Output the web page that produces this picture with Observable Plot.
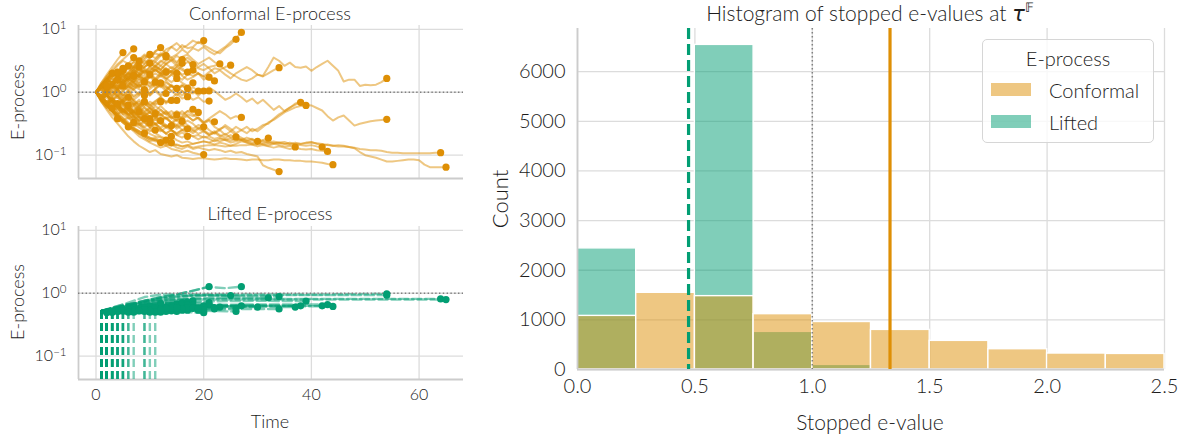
<!DOCTYPE html>
<html><head><meta charset="utf-8">
<script src="https://cdn.jsdelivr.net/npm/d3@7"></script>
<script src="https://cdn.jsdelivr.net/npm/@observablehq/plot@0.6"></script>
<style>
body{margin:0;background:#fff;}
#fig{position:relative;width:1188px;height:434px;font-family:Lato,"DejaVu Sans",sans-serif;font-weight:300;color:#1c1c1c;overflow:hidden;}
#fig svg{position:absolute;overflow:visible;}
.lbl{position:absolute;white-space:nowrap;transform:translate(-50%,-50%);line-height:1;}
.rot{transform:translate(-50%,-50%) rotate(-90deg);}
</style></head><body><div id="fig"></div><script>
// ---------- data (log10 of the E-process, index = time step) ----------
const conformalLog10 = [
 [0,.1,.05,.18,.25,.2,.32,.4,.35,.45,.52,.48,.58,.62,.55,.6,.68,.62,.7,.66,.72,.65,.6,.66,.72,.8,.86,.95],
 [0,.12,.2,.15,.28,.35,.3,.42,.5,.45,.55,.62,.58,.68,.72,.66,.75,.7,.72,.8,.75,.7,.65,.62,.7,.76,.84],
 [0,.1,.2,.3,.25,.38,.45,.4,.52,.6,.55,.65,.7,.62,.72,.78,.7,.75,.82,.78,.82],
 [0,-.05,.05,.12,.08,.18,.25,.2,.3,.26,.35,.42,.36,.45,.52,.46,.55,.5,.42,.38,.35,.4,.42,.45],
 [0,.08,.02,.12,.2,.15,.22,.3,.25,.35,.28,.22,.3,.38,.32,.25,.2,.28,.35,.3,.25,.32,.38,.36,.4,.43],
 [0,.1,.15,.08,.2,.25,.18,.28,.35,.3,.4,.48,.42,.5,.55,.48,.56,.6,.52,.45,.5,.55,.48,.42,.36,.3,.25,.2,.18,.22,.28,.25,.3,.35,.39],
 [0,.08,.15,.1,.2,.28,.2,.3,.38,.3,.35,.42,.35,.45,.5,.42,.5,.55,.48,.4,.45,.38,.3,.35,.28,.22,.3,.35,.4,.35,.28,.26,.4,.55,.5,.42,.47,.4,.39,.41,.34,.4,.45,.5,.42,.34,.17,.2,.2,.1,.12,.11,.12,.16,.22],
 [0,.1,.05,.15,.22,.3,.25,.35,.42,.38,.32,.4,.36,.28,.34,.4,.35,.3,.26,.3,.2,.24],
 [0,-.08,.02,.1,.05,.15,.22,.16,.25,.2,.28,.35,.3,.22,.28,.34,.26,.2,.24,.3,.25,.2,.18],
 [0,-.1,-.05,-.15,-.22,-.15,-.25,-.3,-.22,-.15,-.2,-.28,-.35,-.3,-.4,-.45,-.38,-.3,-.35,-.42,-.5,-.45,-.55,-.6,-.52,-.58,-.65,-.6,-.55,-.62,-.58,-.52,-.5,-.42,-.35,-.3,-.24,-.2,-.16],
 [0,.05,-.05,.02,-.08,-.15,-.1,-.2,-.15,-.25,-.32,-.28,-.35,-.42,-.38,-.45,-.52,-.45,-.5,-.58,-.52,-.6,-.66,-.6,-.68,-.62,-.55,-.6,-.65,-.58,-.62,-.55,-.48,-.44,-.38,-.32,-.28,-.24,-.22,-.21],
 [0,.1,.02,.12,.05,-.05,.02,.1,.05,-.02,.05,.12,.08,.15,.1,.05,.12,.08,.02,-.05,.02,.08,.02,-.05,-.12,-.08,-.02,-.08,-.15,-.1,-.18,-.12,-.2,-.28,-.22,-.3,-.25,-.18,-.14,-.2,-.21,-.25,-.29,-.38,-.45,-.4,-.37,-.45,-.53,-.5,-.48,-.46,-.45,-.44,-.43],
 [0,-.1,-.18,-.12,-.2,-.28,-.22,-.3,-.38,-.32,-.4,-.35,-.28,-.35,-.42,-.36,-.3,-.38,-.45,-.4,-.48,-.42,-.36,-.3,-.35,-.42,-.38,-.4],
 [0,-.12,-.2,-.3,-.25,-.35,-.42,-.38,-.48,-.55,-.5,-.58,-.62,-.56,-.6,-.66,-.6,-.55,-.6,-.66,-.62,-.68,-.64,-.7,-.66,-.72,-.71],
 [0,-.1,-.05,-.15,-.25,-.2,-.3,-.38,-.32,-.42,-.48,-.42,-.5,-.55,-.5,-.58,-.52,-.6,-.65,-.58,-.62,-.68,-.64,-.58,-.55,-.62,-.68,-.72,-.76,-.74,-.78],
 [0,.05,-.05,-.12,-.08,-.18,-.25,-.2,-.3,-.35,-.3,-.38,-.45,-.4,-.48,-.55,-.5,-.58,-.62,-.56,-.6,-.66,-.62,-.68,-.72,-.68,-.72,-.76,-.72,-.75,-.78,-.76,-.73],
 [0,-.1,-.15,-.22,-.18,-.28,-.35,-.42,-.38,-.48,-.55,-.5,-.58,-.65,-.6,-.68,-.72,-.66,-.7,-.75,-.7,-.74,-.78,-.74,-.76,-.8,-.78,-.76,-.8,-.82,-.8,-.83,-.85,-.82,-.84,-.86,-.85,-.87],
 [0,-.08,-.15,-.1,-.2,-.28,-.35,-.3,-.4,-.46,-.42,-.5,-.56,-.52,-.6,-.65,-.6,-.66,-.7,-.68,-.72,-.7,-.74,-.72,-.75,-.73,-.76,-.74,-.77,-.8,-.78,-.8,-.79,-.81,-.8,-.82,-.8,-.83,-.84,-.85,-.84,-.86,-.87],
 [0,-.12,-.22,-.3,-.38,-.45,-.4,-.5,-.56,-.62,-.58,-.65,-.7,-.74,-.7,-.76,-.8,-.78,-.82,-.8,-.78,-.8,-.83,-.8,-.82,-.85,-.82,-.78,-.8,-.83,-.86,-.84,-.86,-.88,-.86,-.88,-.9,-.88,-.9,-.91,-.9,-.92,-.93,-.94],
 [0,-.1,-.2,-.3,-.4,-.48,-.55,-.62,-.7,-.75,-.8,-.84,-.88,-.85,-.9,-.92,-.95,-.93,-.96,-.98,-.99],
 [0,-.1,-.2,-.28,-.35,-.42,-.5,-.56,-.62,-.68,-.72,-.76,-.8,-.82,-.85,-.83,-.86,-.84,-.82,-.8,-.78,-.8,-.76,-.78,-.75,-.77,-.74,-.76,-.78,-.76,-.79,-.77,-.8,-.78,-.8,-.79,-.82,-.8,-.82,-.8,-.79,-.82,-.84,-.83,-.85,-.84,-.85,-.87,-.88,-.9,-.91,-.92,-.92,-.93,-.95,-.96,-.96,-.97,-.97,-.97,-.97,-.97,-.97,-.96,-.96],
 [0,-.12,-.22,-.3,-.4,-.48,-.55,-.6,-.66,-.7,-.75,-.72,-.78,-.82,-.8,-.84,-.86,-.84,-.88,-.86,-.85,-.84,-.84,-.85,-.86,-.85,-.85,-.84,-.84,-.83,-.83,-.82,-.82,-.81,-.81,-.82,-.83,-.82,-.82,-.81,-.8,-.81,-.82,-.84,-.85,-.86,-.86,-.87,-.89,-.95,-1.0,-1.02,-1.04,-1.07,-1.1,-1.1,-1.09,-1.08,-1.07,-1.07,-1.08,-1.15,-1.19,-1.19,-1.19,-1.19],
 [0,-.15,-.28,-.4,-.5,-.6,-.7,-.78,-.85,-.9,-.95,-.92,-.98,-1.0,-1.02,-1.0,-1.04,-1.05,-1.06,-1.05,-1.05,-1.06,-1.07,-1.06,-1.05,-1.06,-1.06,-1.07,-1.08,-1.07,-1.07,-1.08,-1.08,-1.07,-1.07,-1.08,-1.08,-1.09,-1.09,-1.1,-1.1,-1.11,-1.12,-1.14,-1.15],
 [0,-.1,-.2,-.3,-.38,-.45,-.52,-.6,-.66,-.72,-.78,-.75,-.8,-.85,-.82,-.88,-.9,-.86,-.9,-.88,-.9,-.92,-.9,-.92,-.95,-.93,-.96,-.95,-.98,-1.0,-1.02,-1.16,-1.2,-1.23,-1.26],
 [0,.1,.05,.15,.1,.2,.15,.08,.15,.22,.15,.08,.15,.1,.02,-.05,.02,-.05,-.12,-.08,-.15,-.14],
 [0,-.1,-.02,.08,.02,-.08,-.02,.05,.12,.05,-.02,.05,.12,.08,.02,.08,.02,-.05,0,.05,.02],
 [0,.08,.15,.22,.15,.25,.3,.22,.28,.2,.14,.2,.12,.18,.1,.04,.1,.05,-.02,.05,0,.02],
 [0,-.08,-.15,-.08,-.18,-.12,-.2,-.28,-.22,-.3,-.25,-.32,-.38,-.32,-.4,-.35,-.42,-.38,-.45,-.4,-.48,-.44,-.47],
 [0,-.12,-.05,-.15,-.22,-.15,-.25,-.32,-.28,-.38,-.32,-.4,-.46,-.4,-.48,-.52,-.46,-.52,-.58,-.52,-.55],
 [0,.05,-.05,-.12,-.05,-.15,-.08,-.18,-.25,-.18,-.25,-.3,-.22,-.3,-.36,-.3,-.35,-.3,-.27],
 [0,-.1,-.2,-.12,-.22,-.3,-.25,-.35,-.42,-.36,-.45,-.52,-.46,-.55,-.5,-.44,-.4,-.35,-.38,-.32],
 [0,.12,.2,.15,.25,.32,.28,.38,.45,.4,.48,.42,.5,.45,.38,.44,.38,.3,.35],
 [0,-.05,.05,.12,.06,.15,.22,.16,.1,.18,.25,.2,.28,.22,.16,.22,.15,.1,.15],
 [0,.1,.2,.3,.25,.36,.45,.4,.5,.58,.55,.65,.71],
 [0,.12,.25,.35,.45,.52,.6,.69],
 [0,.15,.28,.4,.52,.63],
 [0,-.12,-.22,-.3,-.38,-.45,-.52,-.58,-.62,-.68,-.72,-.75,-.78,-.76,-.8],
 [0,-.1,-.2,-.28,-.36,-.45,-.52,-.58,-.65,-.7,-.74,-.78,-.8],
 [0,-.15,-.25,-.2,-.32,-.4,-.48,-.55,-.5,-.6,-.66,-.7,-.72,-.76],
 [0,.1,.02,.12,.2,.14,.24,.32,.26,.35,.3,.38,.32,.26,.34,.3],
 [0,.08,.18,.12,.22,.3,.25,.35,.3,.4,.46,.4,.48,.55,.5,.58,.52],
 [0,.1,.05,.15,.22,.18,.28,.35,.3,.4,.46],
 [0,-.05,.05,.12,.08,.18,.12,.22,.28,.22,.3,.36,.28,.32],
 [0,.1,.18,.25,.2,.28,.22,.3,.38,.32,.4,.34,.42,.36,.3,.36,.28,.32],
 [0,.08,.15,.08,.18,.25,.18,.1,.2,.16],
 [0,-.08,.02,-.05,.05,.12,.05,.14,.08,.18,.1,.16],
 [0,.1,.2,.28,.22,.35],
 [0,.12,.05,.15,.25,.2,.3,.27],
 [0,.1,.18,.1,.2,.14,.22,.15,.08,.15,.08,.15,.1,.02,.1,.06],
 [0,-.1,-.18,-.1,-.2,-.12,-.05,-.12,-.05,.02,-.05,.05,.12,.05,.12,.05,.1,.06],
 [0,.08,.02,.1,.05,-.05,.02,-.08,-.02,.05,-.05,.02,-.06,-.02],
 [0,-.1,-.02,-.12,-.05,-.15,-.1,-.2,-.12,-.22,-.15,-.2,-.15],
 [0,.1,.02,-.08,0,-.1,-.04,-.14,-.2,-.12,-.2,-.14,-.08,-.16,-.13],
 [0,-.12,-.2,-.12,-.22,-.3,-.24,-.32,-.26,-.18,-.25,-.18,-.1,-.18,-.1,-.13],
 [0,.08,-.02,.06,-.04,-.12,-.05,-.15,-.22,-.15,-.22,-.15,-.08,-.15,-.1,-.02,-.1,-.07],
 [0,-.1,-.05,-.15,-.22,-.18,-.28,-.22,-.32,-.38,-.32,-.4,-.35,-.42,-.48,-.42,-.46],
 [0,-.12,-.22,-.15,-.25,-.32,-.28,-.38,-.45,-.4,-.48,-.42,-.5,-.56,-.53],
 [0,-.08,-.16,-.25,-.2,-.3,-.38,-.32,-.4,-.46,-.42,-.5,-.45,-.52,-.58,-.52,-.6,-.58],
 [0,.05,-.05,-.12,-.2,-.14,-.24,-.3,-.25,-.34,-.4,-.38,-.45],
 [0,-.1,-.18,-.26,-.2,-.28,-.35,-.3,-.38,-.44,-.42],
 [0,-.1,-.04,-.14,-.22,-.16,-.25,-.34,-.31],
 [0,.12,.22,.3],
 [0,.1,.05,.14,.19],
 [0,-.1,-.18,-.1,-.2,-.28,-.2],
 [0,-.1,-.2,-.25],
 [0,-.08,.02,.1,.05,.1],
 [0,.1,.2,.28,.35,.3,.42],
 [0,.1,.2,.15,.25,.35,.4,.48,.5],
 [0,.08,.15,.08,.02,.1,.02,-.06,0,-.05],
 [0,-.12,-.2,-.28,-.35,-.3,-.4,-.46,-.52,-.56,-.62,-.6],
 [0,-.1,-.2,-.28,-.35,-.42,-.5,-.48],
 [0,.12,.1],
 [0,.1,.22,.3,.26,.35,.42,.38,.48,.55,.6],
 [0,-.12,-.22,-.3,-.4,-.46,-.52,-.58,-.62,-.65],
 [0,.1,.02,-.06,.04,-.04,-.08],
 [0,.12,.22,.32,.42,.5,.45,.55],
 [0,-.1,-.2,-.3,-.4,-.48,-.55],
 [0,.1,.2,.15,.25,.3,.38,.32,.4],
 [0,-.12,-.08,-.18,-.25,-.32,-.28,-.38,-.45,-.42],
 [0,.15,.25,.35,.3],
 [0,-.15,-.25,-.35,-.42],
 [0,.1,.02,.12,.2,.28,.22,.3,.25,.2,.28,.22,.15],
 [0,-.1,-.18,-.25,-.2,-.3,-.25,-.18,-.25,-.32,-.26,-.34],
 [0,.12,.2,.28,.24,.32,.4,.36,.44,.5,.46,.52,.6,.56],
 [0,-.05,-.15,-.22,-.3,-.25,-.35,-.42,-.5,-.46,-.55,-.62,-.58,-.66,-.7],
 [0,.08,.15,.22,.18,.1,.18,.25],
 [0,-.08,-.02,-.1,-.18,-.12,-.05,-.12,-.2,-.15],
 [0,.1,.18,.25,.32,.38],
 [0,-.1,-.02,.06,.12,.05,.12,.2,.14,.22,.28],
 [0,-.12,-.2,-.15,-.25,-.2,-.28,-.35,-.3,-.24,-.3,-.22,-.28,-.35,-.3,-.36],
 [0,.1,.05,-.02,.06,.14,.08,.16,.22,.16,.24,.3,.25,.33,.4,.34,.42,.48,.44],
 [0,-.1,-.05,.02,-.06,.02,.1,.04,.12,.05,-.02,.05,-.04,.04,.1,.02,-.05,.02,.08,.02],
 [0,.1,.2,.28,.36,.3,.4,.48,.42,.52,.6,.54,.62,.58],
 [0,-.1,-.2,-.15,-.25,-.35,-.3,-.38,-.46,-.4,-.48],
 [0,.12,.06,.16,.1,.02,.1,.04,-.04,.04],
 [0,-.06,.04,.12,.2,.14,.22,.3,.24,.16,.24,.18,.26,.2,.28,.22],
 [0,.1,.2,.14,.24,.18,.1,.18,.26,.34,.28,.36,.3,.38,.32,.4,.46],
 [0,-.1,-.18,-.26,-.34,-.28,-.36,-.44,-.52,-.48,-.56,-.5,-.6,-.66,-.6,-.68,-.64,-.7],
 [0,.08,.16,.24,.32],
 [0,-.08,-.16,-.1,-.18]
];
// lifted E-process: [time, log10 value] vertices; first vertex = time the process leaves 0
const liftedLog10 = [
 [[1,-.28],[5,-.2],[10,-.1],[15,-.02],[21,.1],[24,.08],[27,.105]],
 [[1,-.3],[5,-.28],[10,-.26],[15,-.27],[20,-.28],[26,-.29]],
 [[2,-.3],[8,-.27],[14,-.26],[20,-.29]],
 [[1,-.29],[6,-.25],[12,-.22],[18,-.2],[23,-.22]],
 [[1,-.28],[6,-.2],[11,-.1],[16,-.05],[20,-.03],[25,-.036]],
 [[2,-.28],[7,-.18],[12,-.08],[18,-.04],[28,-.05],[34,-.052]],
 [[1,-.28],[5,-.18],[9,-.06],[12,-.02],[25,-.02],[40,-.02],[54,-.01]],
 [[1,-.29],[6,-.18],[11,-.08],[16,0],[21,.105]],
 [[3,-.3],[10,-.27],[16,-.24],[22,-.25]],
 [[1,-.3],[5,-.25],[12,-.22],[20,-.2],[30,-.19],[38,-.2]],
 [[1,-.29],[6,-.22],[12,-.16],[20,-.13],[30,-.12],[39,-.126]],
 [[2,-.29],[7,-.17],[12,-.06],[18,-.03],[40,-.03],[54,-.03]],
 [[1,-.3],[7,-.24],[14,-.2],[21,-.19],[27,-.2]],
 [[3,-.3],[10,-.26],[18,-.24],[26,-.24]],
 [[2,-.3],[9,-.25],[18,-.22],[24,-.21],[30,-.22]],
 [[1,-.28],[6,-.2],[12,-.12],[18,-.08],[25,-.07],[32,-.073]],
 [[1,-.29],[8,-.25],[16,-.22],[26,-.21],[37,-.22]],
 [[2,-.3],[10,-.25],[20,-.21],[30,-.2],[42,-.2]],
 [[1,-.3],[6,-.22],[14,-.19],[28,-.18],[43,-.18]],
 [[4,-.32],[10,-.3],[16,-.3],[20,-.31]],
 [[1,-.28],[5,-.2],[9,-.12],[14,-.09],[30,-.09],[50,-.09],[64,-.09]],
 [[2,-.29],[6,-.2],[11,-.12],[16,-.1],[45,-.1],[65,-.1]],
 [[1,-.3],[8,-.24],[20,-.21],[32,-.2],[44,-.21]],
 [[3,-.31],[10,-.28],[20,-.26],[28,-.25],[34,-.25]],
 [[2,-.3],[8,-.24],[14,-.2],[21,-.18]],
 [[1,-.28],[6,-.22],[12,-.2],[20,-.2]],
 [[1,-.28],[5,-.2],[12,-.16],[21,-.15]],
 [[5,-.31],[12,-.27],[22,-.23]],
 [[6,-.32],[13,-.28],[20,-.26]],
 [[1,-.29],[7,-.24],[13,-.22],[18,-.22]],
 [[9,-.31],[14,-.28],[19,-.27]],
 [[1,-.28],[5,-.18],[10,-.13],[18,-.12]],
 [[2,-.29],[9,-.22],[18,-.18]],
 [[1,-.28],[6,-.2],[12,-.16]],
 [[1,-.29],[4,-.26],[7,-.24]],
 [[1,-.3],[5,-.27]],
 [[3,-.31],[9,-.29],[14,-.28]],
 [[7,-.32],[12,-.3]],
 [[2,-.3],[8,-.27],[13,-.26]],
 [[1,-.28],[7,-.2],[15,-.17]],
 [[1,-.28],[6,-.19],[16,-.15]],
 [[1,-.28],[5,-.22],[10,-.2]],
 [[2,-.3],[7,-.25],[13,-.22]],
 [[1,-.28],[6,-.18],[12,-.15],[17,-.14]],
 [[3,-.3],[9,-.26]],
 [[1,-.29],[6,-.25],[11,-.23]],
 [[2,-.3],[5,-.25]],
 [[4,-.31],[7,-.27]],
 [[2,-.3],[9,-.26],[15,-.24]],
 [[10,-.32],[17,-.27]],
 [[5,-.32],[13,-.29]],
 [[1,-.3],[6,-.27],[12,-.25]],
 [[1,-.29],[7,-.23],[14,-.2]],
 [[11,-.32],[15,-.29]],
 [[1,-.29],[8,-.22],[17,-.19]],
 [[3,-.31],[10,-.28],[16,-.27]],
 [[2,-.3],[8,-.26],[14,-.24]],
 [[2,-.3],[10,-.25],[17,-.23]],
 [[4,-.31],[12,-.28]],
 [[6,-.32],[10,-.3]],
 [[2,-.3],[8,-.27]],
 [[1,-.31],[3,-.3]],
 [[2,-.31],[4,-.29]],
 [[1,-.3],[6,-.28]],
 [[2,-.31],[3,-.3]],
 [[3,-.31],[5,-.28]],
 [[1,-.3],[6,-.26]],
 [[1,-.29],[8,-.24]],
 [[1,-.29],[9,-.23]],
 [[9,-.32],[11,-.3]],
 [[5,-.32],[7,-.3]],
 [[1,-.32],[2,-.31]],
 [[3,-.31],[10,-.27]],
 [[4,-.32],[9,-.29]],
 [[2,-.31],[6,-.3]],
 [[1,-.3],[7,-.26],[13,-.24]],
 [[2,-.31],[9,-.27],[16,-.25]],
 [[1,-.3],[5,-.27],[9,-.26]],
 [[3,-.32],[8,-.29],[12,-.27]],
 [[1,-.3],[10,-.25],[18,-.24]],
 [[4,-.31],[11,-.27],[19,-.24]],
 [[1,-.29],[6,-.26],[11,-.24],[15,-.23]],
 [[2,-.3],[4,-.28]],
 [[5,-.31],[8,-.28]],
 [[1,-.3],[3,-.28]]
];
const binEdges = [0,0.25,0.5,0.75,1,1.25,1.5,1.75,2,2.25,2.5];
const conformalCounts = [1080,1545,1478,1115,957,798,577,409,322,314];
const liftedCounts = [2440,0,6540,758,93,15,0,0,0,0];
const liftedMeanStopped = 0.473;
const conformalMeanStopped = 1.331;
const nullValue = 1;
const timeTicks = [0,20,40,60];
const eTicks = [0.1,1,10];
const stoppedTicks = [0,0.5,1,1.5,2,2.5];
const countTicks = [0,1000,2000,3000,4000,5000,6000];
const legendLabels = ["Conformal","Lifted"];

// ---------- styling ----------
const ORANGE="#DE8F05", GREEN="#029E73", GRID="#dcdcdc", SPINE="#cccccc", TXT="#1c1c1c";
const FONT='Lato, "DejaVu Sans", sans-serif';
const yDom=[Math.pow(10,-1.37), Math.pow(10,1.06)];
const xDom=[-3.25,68.25];

const confRows = conformalLog10.flatMap((p,i)=>p.map((v,t)=>({id:i,t,e:Math.pow(10,v)})));
const confEnds = conformalLog10.map(p=>({t:p.length-1,e:Math.pow(10,p[p.length-1])}));
const liftRows = liftedLog10.flatMap((p,i)=>p.map(([t,v])=>({id:i,t,e:Math.pow(10,v)})));
const liftEnds = liftedLog10.map(p=>{const [t,v]=p[p.length-1];return {t,e:Math.pow(10,v)};});
const liftStarts = liftedLog10.map(p=>{const [t,v]=p[0];return {t,e:Math.pow(10,v)};});

const fig = document.getElementById("fig");
function place(svg,left,top){svg.style.left=left+"px";svg.style.top=top+"px";fig.appendChild(svg);}
function supify(svg){
  svg.querySelectorAll("text").forEach(t=>{
    const s=t.textContent; if(!s.startsWith("10^")) return;
    const ex=s.slice(3);
    t.textContent="10";
    const ts=document.createElementNS("http://www.w3.org/2000/svg","tspan");
    ts.setAttribute("dy","-0.45em"); ts.setAttribute("font-size","0.72em");
    ts.textContent=ex.replace("-","\u2212");
    t.appendChild(ts);
  });
}
const axisStyle={tickSize:0,fill:TXT,label:null,fontWeight:300};
function leftPanel(top, marginTop, marginBottom, height, showX, marks){
  const svg = Plot.plot({
    width:470, height, marginLeft:78, marginRight:7, marginTop, marginBottom,
    x:{domain:xDom, axis:null}, y:{type:"log", domain:yDom, axis:null},
    style:{fontFamily:FONT, fontSize:"16px", fontWeight:300, color:TXT, background:"transparent", overflow:"visible"},
    marks:[
      Plot.gridX(timeTicks,{stroke:GRID,strokeOpacity:1,strokeWidth:1.3}),
      Plot.gridY(eTicks,{stroke:GRID,strokeOpacity:1,strokeWidth:1.3}),
      Plot.ruleX([xDom[0]],{stroke:SPINE,strokeWidth:1.8}),
      Plot.ruleY([yDom[0]],{stroke:SPINE,strokeWidth:1.8}),
      Plot.axisY(eTicks,{...axisStyle,tickPadding:12,fontSize:16,tickFormat:d=>"10^"+Math.round(Math.log10(d))}),
      ...(showX?[Plot.axisX(timeTicks,{...axisStyle,tickPadding:9,fontSize:16})]:[]),
      ...marks
    ]
  });
  supify(svg);
  place(svg,0,top);
}
leftPanel(0,25,7,185,false,[
  Plot.line(confRows,{x:"t",y:"e",z:"id",stroke:ORANGE,strokeOpacity:0.5,strokeWidth:2}),
  Plot.ruleY([nullValue],{stroke:"#808080",strokeWidth:1.4,strokeDasharray:"1.4 2.4"}),
  Plot.dot(confEnds,{x:"t",y:"e",fill:ORANGE,r:3.6})
]);
leftPanel(200,26,55,234,true,[
  Plot.ruleX(liftStarts,{x:"t",y1:yDom[0],y2:"e",stroke:GREEN,strokeOpacity:0.5,strokeWidth:2.4,strokeDasharray:"8 4"}),
  Plot.line(liftRows,{x:"t",y:"e",z:"id",stroke:GREEN,strokeOpacity:0.5,strokeWidth:2.4,strokeDasharray:"9 4"}),
  Plot.ruleY([nullValue],{stroke:"#808080",strokeWidth:1.4,strokeDasharray:"1.4 2.4"}),
  Plot.dot(liftEnds,{x:"t",y:"e",fill:GREEN,r:3.6})
]);

// ---------- histogram ----------
const confBins = conformalCounts.map((c,i)=>({x1:binEdges[i],x2:binEdges[i+1],count:c}));
const liftBins = liftedCounts.map((c,i)=>({x1:binEdges[i],x2:binEdges[i+1],count:c})).filter(d=>d.count>0);
const hist = Plot.plot({
  width:708, height:434, marginLeft:97, marginRight:24, marginTop:28, marginBottom:65,
  x:{domain:[0,2.5], axis:null}, y:{domain:[0,6870], axis:null},
  style:{fontFamily:FONT, fontSize:"20px", fontWeight:300, color:TXT, background:"transparent", overflow:"visible"},
  marks:[
    Plot.gridX(stoppedTicks,{stroke:GRID,strokeOpacity:1,strokeWidth:1.3}),
    Plot.gridY(countTicks,{stroke:GRID,strokeOpacity:1,strokeWidth:1.3}),
    Plot.rectY(liftBins,{x1:"x1",x2:"x2",y:"count",fill:GREEN,fillOpacity:0.5,stroke:"white",strokeWidth:1.4}),
    Plot.rectY(confBins,{x1:"x1",x2:"x2",y:"count",fill:ORANGE,fillOpacity:0.5,stroke:"white",strokeWidth:1.4}),
    Plot.ruleX([0],{stroke:SPINE,strokeWidth:1.8}),
    Plot.ruleY([0],{stroke:SPINE,strokeWidth:1.8}),
    Plot.ruleX([liftedMeanStopped],{stroke:GREEN,strokeWidth:3.2,strokeDasharray:"11 5"}),
    Plot.ruleX([conformalMeanStopped],{stroke:ORANGE,strokeWidth:3.2}),
    Plot.ruleX([nullValue],{stroke:"#808080",strokeWidth:1.5,strokeDasharray:"1.5 2.5"}),
    Plot.axisX(stoppedTicks,{...axisStyle,tickPadding:9,fontSize:20,tickFormat:d=>d.toFixed(1)}),
    Plot.axisY(countTicks,{...axisStyle,tickPadding:12,fontSize:20,tickFormat:d=>String(d)})
  ]
});
place(hist,480,0);

// ---------- text ----------
function label(text,x,y,size,rot){
  const d=document.createElement("div"); d.className="lbl"+(rot?" rot":"");
  d.style.left=x+"px"; d.style.top=y+"px"; d.style.fontSize=size+"px";
  d.innerHTML=text; fig.appendChild(d); return d;
}
label("Conformal E-process",270,13,18);
label("Lifted E-process",270,213,18);
label("E-process",17,101.5,18,true);
label("E-process",17,302,18,true);
label("Time",270,421,18);
label('Histogram of stopped e-values at <b><i style="font-family:\'DejaVu Sans\'">τ</i></b><sup style="font-size:0.6em;font-family:\'DejaVu Sans\';position:relative;top:-0.1em">𝔽</sup>',870,13,21);
label("Count",500,199,22,true);
label("Stopped e-value",870,421,21);

// legend
const box=document.createElement("div");
Object.assign(box.style,{position:"absolute",left:"982px",top:"39px",width:"172px",height:"104px",border:"1px solid #d6d6d6",borderRadius:"5px",background:"rgba(255,255,255,0.8)",boxSizing:"border-box"});
fig.appendChild(box);
label("E-process",1068,58,20);
[ORANGE,GREEN].forEach((c,i)=>{
  const sw=document.createElement("div");
  Object.assign(sw.style,{position:"absolute",left:"991px",top:(83+i*32)+"px",width:"40px",height:"13px",background:c,opacity:"0.5"});
  fig.appendChild(sw);
  const t=label(legendLabels[i],1049,90+i*32,20); t.style.transform="translate(0,-50%)";
});
</script></body></html>
